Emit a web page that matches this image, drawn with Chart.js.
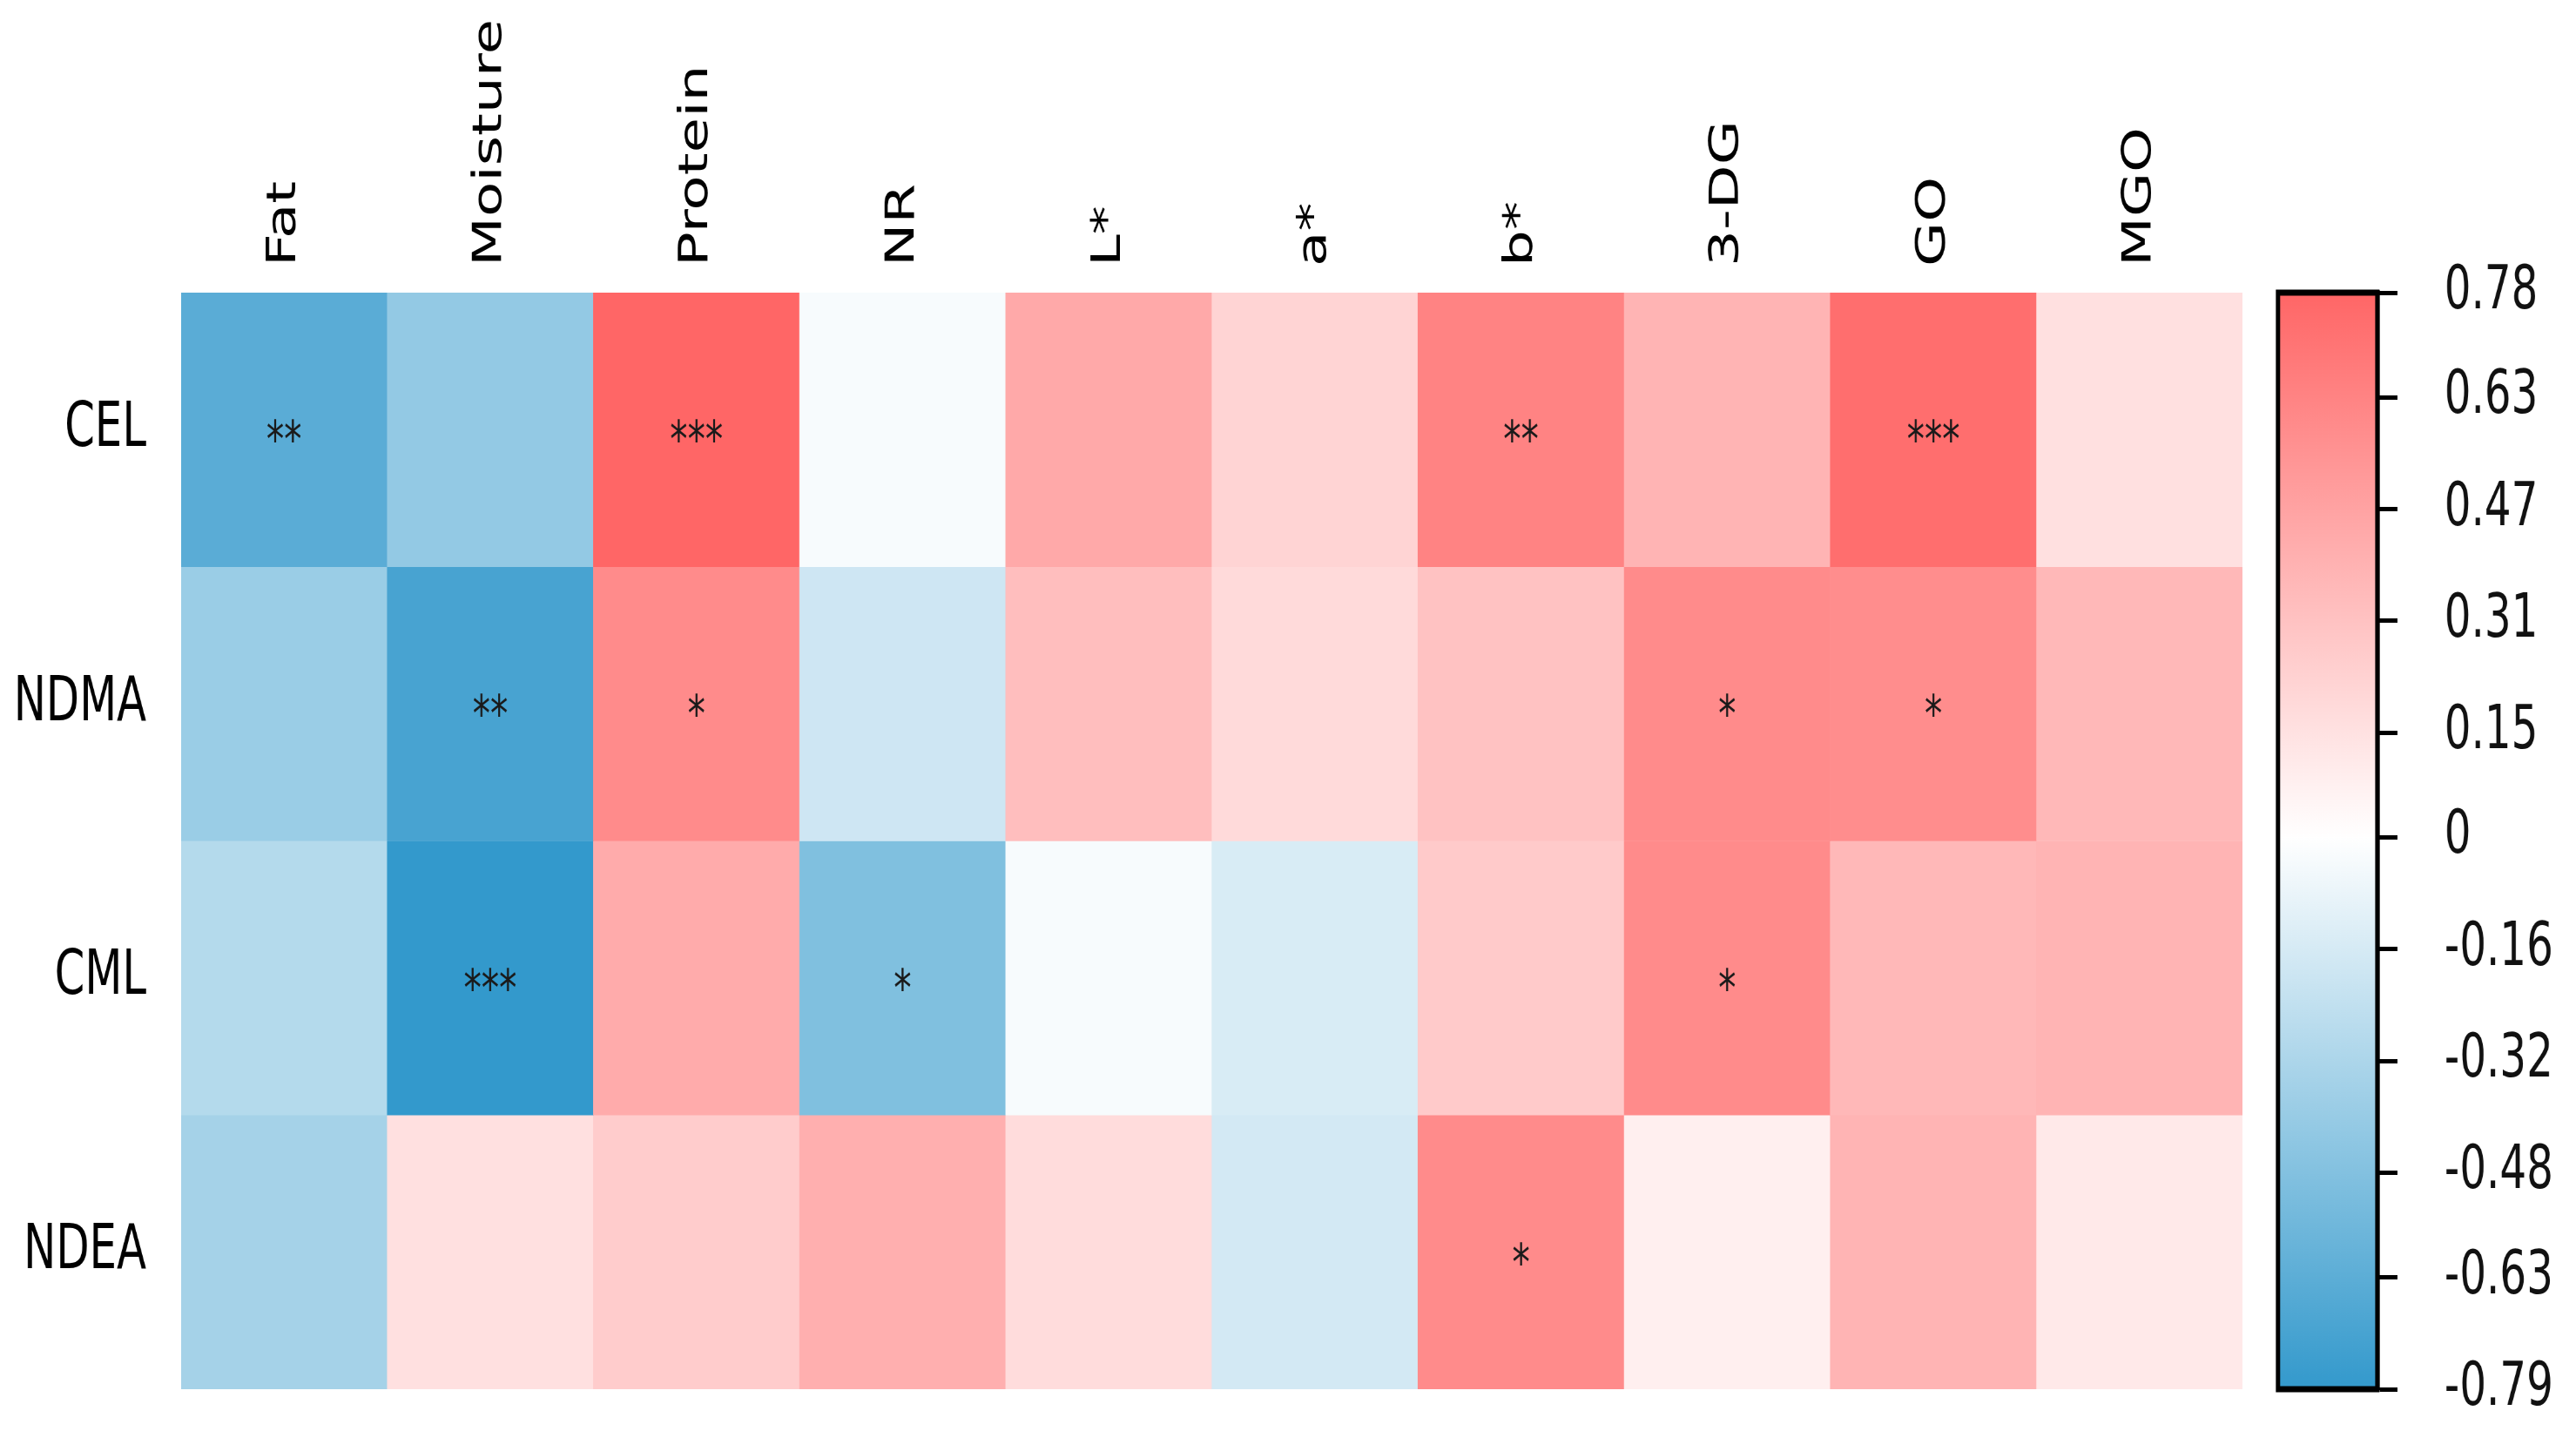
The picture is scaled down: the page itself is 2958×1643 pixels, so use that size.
<!DOCTYPE html>
<html>
<head>
<meta charset="utf-8">
<script src="https://cdn.jsdelivr.net/npm/chart.js@4/dist/chart.umd.min.js"></script>
<style>
  html, body { margin: 0; padding: 0; background: #fff; overflow: hidden; }
</style>
</head>
<body>
<!-- the original figure is squeezed sideways, so the canvas is drawn wide and shown narrow -->
<canvas id="heatmap" width="4226" height="1643" style="width:2958px;height:1643px"></canvas>
<script>
var columns = ['Fat', 'Moisture', 'Protein', 'NR', 'L*', 'a*', 'b*', '3-DG', 'GO', 'MGO'];
var rows = ['CEL', 'NDMA', 'CML', 'NDEA'];

// correlation values, one array per row
var celValues  = [-0.64, -0.42, 0.78, -0.03, 0.44, 0.22, 0.63, 0.38, 0.74, 0.16];
var ndmaValues = [-0.39, -0.71, 0.59, -0.19, 0.33, 0.19, 0.31, 0.59, 0.58, 0.36];
var cmlValues  = [-0.29, -0.79, 0.43, -0.49, -0.03, -0.15, 0.27, 0.59, 0.36, 0.38];
var ndeaValues = [-0.35, 0.16, 0.26, 0.41, 0.18, -0.17, 0.59, 0.08, 0.38, 0.11];

// significance marks
var celStars  = ['**', '', '***', '', '', '', '**', '', '***', ''];
var ndmaStars = ['', '**', '*', '', '', '', '', '*', '*', ''];
var cmlStars  = ['', '***', '', '*', '', '', '', '*', '', ''];
var ndeaStars = ['', '', '', '', '', '', '*', '', '', ''];

// colour bar
var scaleMin = -0.79;
var scaleMax = 0.78;
var scaleTicks = [0.78, 0.63, 0.47, 0.31, 0.15, 0, -0.16, -0.32, -0.48, -0.63, -0.79];

var rowValues = [celValues, ndmaValues, cmlValues, ndeaValues];
var rowStars = [celStars, ndmaStars, cmlStars, ndeaStars];

var blue = [51, 153, 204];
var red = [255, 102, 102];

function colorFor(v) {
  var end = v >= 0 ? red : blue;
  var t = v >= 0 ? v / scaleMax : v / scaleMin;
  t = Math.max(0, Math.min(1, t));
  var c = end.map(function (e) { return Math.round(255 + (e - 255) * t); });
  return 'rgb(' + c[0] + ',' + c[1] + ',' + c[2] + ')';
}

var datasets = rowValues.map(function (vals, i) {
  return {
    label: rows[i],
    data: vals.map(function () { return [i, i + 1]; }),
    backgroundColor: vals.map(colorFor),
    borderWidth: 0,
    borderSkipped: false,
    barPercentage: 1,
    categoryPercentage: 1,
    grouped: false,
    yAxisID: 'y'
  };
});

var starsPlugin = {
  id: 'stars',
  afterDatasetsDraw: function (chart) {
    var ctx = chart.ctx;
    var xs = chart.scales.x, ys = chart.scales.y;
    ctx.save();
    ctx.fillStyle = '#1a1a1a';
    ctx.font = '58px "DejaVu Sans"';
    ctx.textAlign = 'center';
    ctx.textBaseline = 'alphabetic';
    rowStars.forEach(function (marks, i) {
      marks.forEach(function (m, j) {
        if (!m) return;
        ctx.fillText(m, xs.getPixelForValue(j), ys.getPixelForValue(i + 0.5) + 32);
      });
    });
    ctx.restore();
  }
};

var colorBarPlugin = {
  id: 'colorBar',
  beforeDatasetsDraw: function (chart) {
    var cb = chart.scales.cb;
    var ctx = chart.ctx;
    var barWidth = 163;
    var left = cb.left - barWidth;
    var top = cb.getPixelForValue(scaleMax);
    var bottom = cb.getPixelForValue(scaleMin);
    var grad = ctx.createLinearGradient(0, bottom, 0, top);
    grad.addColorStop(0, colorFor(scaleMin));
    grad.addColorStop(-scaleMin / (scaleMax - scaleMin), '#ffffff');
    grad.addColorStop(1, colorFor(scaleMax));
    ctx.save();
    ctx.fillStyle = grad;
    ctx.fillRect(left, top, barWidth, bottom - top);
    ctx.strokeStyle = '#000';
    ctx.lineWidth = 7;
    ctx.strokeRect(left, top, barWidth, bottom - top);
    ctx.restore();
  }
};

function noOverhang(s) {
  s.paddingTop = 0;
  s.paddingBottom = 0;
}

new Chart(document.getElementById('heatmap'), {
  type: 'bar',
  data: { labels: columns, datasets: datasets },
  options: {
    responsive: false,
    devicePixelRatio: 1,
    animation: false,
    layout: { padding: { top: 0, left: 0, right: 0, bottom: 48 } },
    plugins: { legend: { display: false }, tooltip: { enabled: false } },
    scales: {
      x: {
        type: 'category',
        position: 'top',
        grid: { display: false, drawTicks: false },
        border: { display: false },
        ticks: {
          minRotation: 90,
          maxRotation: 90,
          padding: 30,
          labelOffset: 80,
          color: '#000',
          font: { family: 'DejaVu Sans', size: 66 }
        },
        afterFit: function (s) { s.height = 336; }
      },
      y: {
        type: 'linear',
        position: 'left',
        min: 0,
        max: rows.length,
        reverse: true,
        grid: { display: false, drawTicks: false },
        border: { display: false },
        afterBuildTicks: function (s) {
          s.ticks = rows.map(function (r, i) { return { value: i + 0.5 }; });
        },
        ticks: {
          padding: 57,
          color: '#000',
          font: { family: 'DejaVu Sans', size: 71 },
          callback: function (v, i) { return rows[i]; }
        },
        afterFit: function (s) { s.width = 297; noOverhang(s); }
      },
      spacer: {
        type: 'linear',
        position: 'right',
        weight: 0,
        grid: { display: false, drawTicks: false },
        border: { display: false },
        ticks: { display: false },
        afterFit: function (s) { s.width = 221; noOverhang(s); }
      },
      cb: {
        type: 'linear',
        position: 'right',
        weight: 1,
        min: scaleMin,
        max: scaleMax,
        grid: { display: true, drawOnChartArea: false, drawTicks: true, tickLength: 33, tickWidth: 5, tickColor: '#000' },
        border: { display: true, color: '#000', width: 7 },
        afterBuildTicks: function (s) {
          s.ticks = scaleTicks.map(function (v) { return { value: v }; });
        },
        ticks: {
          padding: 77,
          color: '#111',
          font: { family: 'DejaVu Sans', size: 69 },
          callback: function (v) { return String(v); }
        },
        afterFit: function (s) { s.width = 326; noOverhang(s); }
      }
    }
  },
  plugins: [colorBarPlugin, starsPlugin]
});
</script>
</body>
</html>
